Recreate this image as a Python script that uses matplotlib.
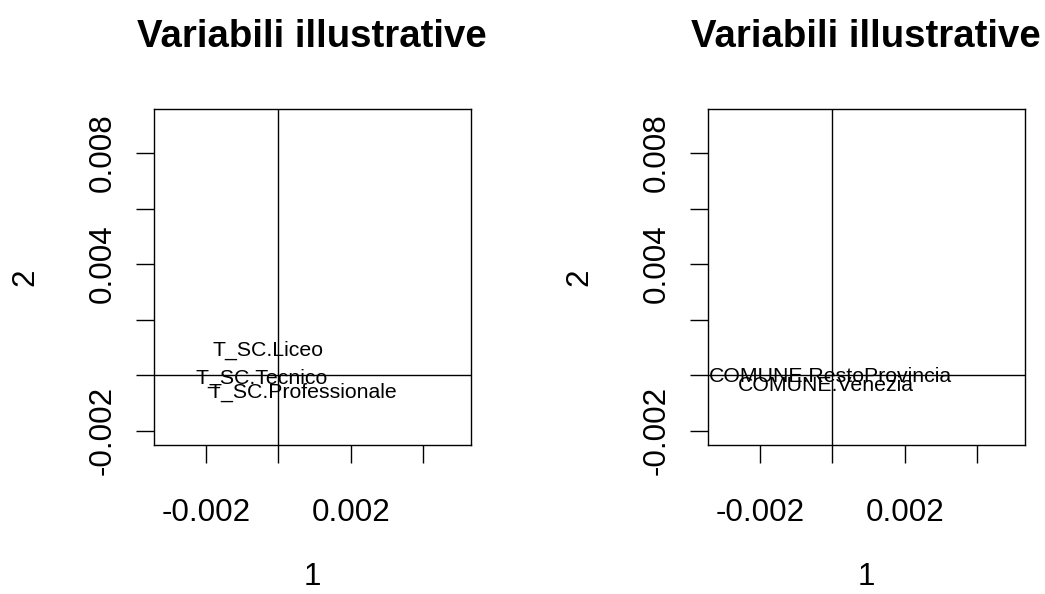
import matplotlib
matplotlib.use('Agg')
import matplotlib.pyplot as plt

plt.rcParams['font.family'] = ['Liberation Sans', 'DejaVu Sans']

# coordinates of the supplementary categories on dimensions 1 and 2
scuola_lab = ['T_SC.Liceo', 'T_SC.Tecnico', 'T_SC.Professionale']
scuola_x = [-0.00028, -0.00045, 0.00068]
scuola_y = [0.00097, -0.00003, -0.00054]

comune_lab = ['COMUNE.RestoProvincia', 'COMUNE.Venezia']
comune_x = [-0.00005, -0.00019]
comune_y = [0.00003, -0.00029]

xlim = (-0.00344, 0.00533)
ylim = (-0.00252, 0.00959)
xticks = [-0.002, 0.0, 0.002, 0.004]
xticklabels = ['-0.002', '', '0.002', '']
yticks = [-0.002, 0.0, 0.002, 0.004, 0.006, 0.008]
yticklabels = ['-0.002', '', '', '0.004', '', '0.008']

W, H = 1045, 594
fig = plt.figure(figsize=(W / 100, H / 100), dpi=100)

panels = [(154, scuola_lab, scuola_x, scuola_y),
          (708, comune_lab, comune_x, comune_y)]

for left, labs, xs, ys in panels:
    ax = fig.add_axes([left / W, 1 - 445 / H, 317 / W, 336 / H])
    ax.set_xlim(xlim)
    ax.set_ylim(ylim)
    ax.axhline(0, color='black', lw=1.0)
    ax.axvline(0, color='black', lw=1.0)
    for lab, x, y in zip(labs, xs, ys):
        ax.text(x, y, lab, ha='center', va='center_baseline', fontsize=15.3)
    for s in ax.spines.values():
        s.set_linewidth(1.0)
    ax.set_xticks(xticks)
    ax.set_xticklabels(xticklabels)
    ax.set_yticks(yticks)
    ax.set_yticklabels(yticklabels, rotation=90, va='center')
    ax.tick_params(axis='both', length=13, width=1.0, labelsize=22.6,
                   colors='black')
    ax.tick_params(axis='x', pad=25)
    ax.tick_params(axis='y', pad=13)

    cx = (left + 158) / W
    fig.text(cx, 1 - 47 / H, 'Variabili illustrative', ha='center',
             va='baseline', fontsize=27.6, fontweight='bold')
    fig.text(cx, 1 - 577 / H, '1', ha='center', va='center', fontsize=22.6)
    fig.text((left - 129) / W, 1 - 277 / H, '2', ha='center', va='center',
             rotation=90, fontsize=22.6)

fig.savefig('out.png', dpi=100)
